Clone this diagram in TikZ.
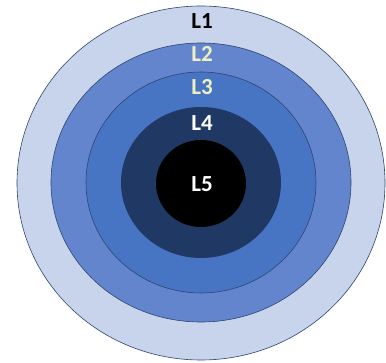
\documentclass[tikz,border=0pt]{standalone}
\usepackage{fontspec}
\setmainfont{Carlito}
\definecolor{ringA}{RGB}{200,212,235}
\definecolor{ringB}{RGB}{98,133,206}
\definecolor{ringC}{RGB}{72,116,196}
\definecolor{ringD}{RGB}{31,56,100}
\definecolor{edgec}{RGB}{45,70,110}
\definecolor{paletxt}{RGB}{238,240,190}
\tikzset{ring/.style={draw=edgec, line width=0.6pt},
  lbl/.style={font=\bfseries\fontsize{23}{23}\selectfont, inner sep=0pt}}
\begin{document}
\begin{tikzpicture}[x=1pt,y=-1pt]
\useasboundingbox (0,0) rectangle (386,363);
\fill[white] (0,0) rectangle (386,363);
\filldraw[ring, fill=ringA] (201,183) ellipse [x radius=184, y radius=177];
\filldraw[ring, fill=ringB] (201,182.5) ellipse [x radius=150, y radius=139.5];
\filldraw[ring, fill=ringC] (201,182.5) ellipse [x radius=115, y radius=110.5];
\fill[ringD] (201,182.5) ellipse [x radius=80, y radius=75.5];
\fill[black] (201,183.5) ellipse [x radius=45, y radius=43.5];
\node[lbl, text=black] (l1) at (202,21) {L1};
\node[lbl, text=paletxt] (l2) at (202,54) {L2};
\node[lbl, text=paletxt] (l3) at (202,87) {L3};
\node[lbl, text=white] (l4) at (202,123) {L4};
\node[lbl, text=white] (l5) at (202,184) {L5};
\end{tikzpicture}
\end{document}
